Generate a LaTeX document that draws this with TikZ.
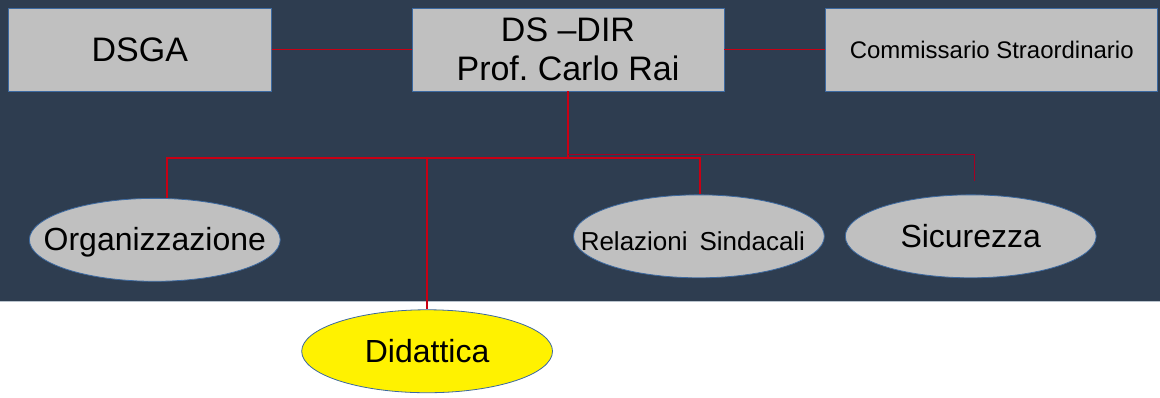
\documentclass[tikz,border=0pt]{standalone}
\usepackage{fontspec}
\setmainfont{Liberation Sans}
\usetikzlibrary{shapes.geometric}
\definecolor{bg}{RGB}{46,61,80}
\definecolor{boxfill}{RGB}{192,192,192}
\definecolor{edgeblue}{RGB}{60,105,160}
\definecolor{linkred}{RGB}{200,0,20}
\definecolor{thinred}{RGB}{165,0,35}
\definecolor{edgeline}{RGB}{185,195,205}
\begin{document}
\frenchspacing
\begin{tikzpicture}[x=1pt,y=-1pt,
  box/.style={draw=edgeblue, line width=0.8pt, fill=boxfill, minimum width=#1,
    minimum height=83pt, inner sep=0pt, align=center, text=black},
  oval/.style={ellipse, draw=edgeblue, line width=0.8pt, fill=#1,
    minimum width=251pt, minimum height=83pt, inner sep=0pt, text=black},
  link/.style={draw=linkred, line width=1.5pt},
  thinlink/.style={draw=thinred, line width=1pt}]
\fill[bg] (0,0) rectangle (1160,302);
\draw[edgeline, line width=0.8pt] (0,302) -- (1160,302);
\useasboundingbox (0,0) rectangle (1160,398);

\node[box=263pt, font=\fontsize{34}{39}\selectfont] (dsga) at (139.5,49.5) {DSGA};
\node[box=312pt, font=\fontsize{34}{39}\selectfont] (ds) at (568,49.5) {DS –DIR\\Prof. Carlo Rai};
\node[box=332pt, font=\fontsize{24}{28}\selectfont] (comm) at (992,49.5) {Commissario Straordinario};

\node[oval=boxfill, font=\fontsize{32}{36}\selectfont] (org) at (154.5,240)
  {\makebox[0pt][c]{\raisebox{-11pt}[0pt][0pt]{Organizzazione}}};
\node[oval=boxfill, font=\fontsize{26}{30}\selectfont] (rel) at (699,236.5)
  {\makebox[0pt][c]{\hspace{-12pt}\raisebox{-14.5pt}[0pt][0pt]{Relazioni\hspace{12pt}Sindacali}}};
\node[oval=boxfill, font=\fontsize{32}{36}\selectfont] (sic) at (971,236.5)
  {\makebox[0pt][c]{\raisebox{-11pt}[0pt][0pt]{Sicurezza}}};
\node[oval=yellow, font=\fontsize{32}{36}\selectfont] (did) at (427,351.5)
  {\makebox[0pt][c]{\raisebox{-11.5pt}[0pt][0pt]{Didattica}}};

\coordinate (jOrg) at (166.6,158);
\coordinate (jDid) at (427,158);
\coordinate (jRel) at (700,158);
\coordinate (jT) at (568,155);
\coordinate (jSic) at (975,155);
\coordinate (endSic) at (975,181);

\draw[link] (dsga.east) -- (ds.west);
\draw[link] (ds.east) -- (comm.west);
\draw[link] (ds.south) -- (ds.south |- jOrg) -- (jOrg) -- (jOrg |- org.north);
\draw[link] (ds.south |- jRel) -- (jRel) -- (jRel |- rel.north);
\draw[link] (jDid) -- (did.north);
\draw[thinlink] (jT) -- (jSic) -- (endSic);
\end{tikzpicture}
\end{document}
